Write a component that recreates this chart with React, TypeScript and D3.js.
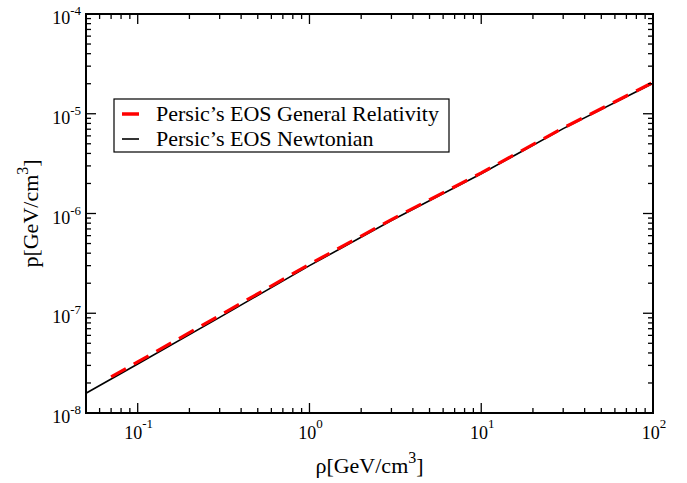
import React from 'react';
import * as d3 from 'd3';

// Persic's EOS curves
const rhoNewton = [0.05, 0.1, 0.3, 1, 3, 10, 30, 100];
const pNewton = [1.58e-8, 3.1e-8, 9.1e-8, 3.0e-7, 8.5e-7, 2.5e-6, 7.1e-6, 2.02e-5];

const rhoGR = [0.07, 0.1, 0.3, 1, 3, 10, 30, 100];
const pGR = [2.3e-8, 3.25e-8, 9.5e-8, 3.1e-7, 8.7e-7, 2.55e-6, 7.2e-6, 2.06e-5];

const xMajor = [0.1, 1, 10, 100];
const xMajorExp = ['-1', '0', '1', '2'];
const yMajor = [1e-8, 1e-7, 1e-6, 1e-5, 1e-4];
const yMajorExp = ['-8', '-7', '-6', '-5', '-4'];

const legendLabels = ['Persic\u2019s EOS General Relativity', 'Persic\u2019s EOS Newtonian'];

const W = 687;
const H = 483;
const margin = { left: 86, right: 34, top: 14, bottom: 70 };
const FONT = "'Liberation Serif', 'Times New Roman', serif";

const minorTicks = (lo: number, hi: number) => {
  const out: number[] = [];
  for (let e = Math.floor(Math.log10(lo)); e < Math.ceil(Math.log10(hi)); e++) {
    for (let k = 2; k <= 9; k++) {
      const v = k * Math.pow(10, e);
      if (v > lo * 1.0001 && v < hi * 0.9999) out.push(v);
    }
  }
  return out;
};

export default function App() {
  const x = d3.scaleLog().domain([0.05, 100]).range([margin.left, W - margin.right]);
  const y = d3.scaleLog().domain([1e-8, 1e-4]).range([H - margin.bottom, margin.top]);
  const [x0, x1] = x.range();
  const [y0, y1] = y.range();

  const line = d3.line<[number, number]>()
    .x(d => x(d[0]))
    .y(d => y(d[1]));

  const newtonPath = line(rhoNewton.map((r, i) => [r, pNewton[i]] as [number, number])) || '';
  const grPath = line(rhoGR.map((r, i) => [r, pGR[i]] as [number, number])) || '';

  const xMinor = minorTicks(0.05, 100);
  const yMinor = minorTicks(1e-8, 1e-4);
  const majLen = 10;
  const minLen = 5;
  const txt = { fontFamily: FONT };

  return (
    <svg width={W} height={H} style={{ position: 'absolute', left: 0, top: 0, background: '#fff', fontFamily: FONT }}>
      <rect x={0} y={0} width={W} height={H} fill="#fff" />

      <clipPath id="plot">
        <rect x={x0} y={y1} width={x1 - x0} height={y0 - y1} />
      </clipPath>

      <g clipPath="url(#plot)">
        <path d={newtonPath} fill="none" stroke="#000" strokeWidth={1.6} />
        <path d={grPath} fill="none" stroke="#ff0000" strokeWidth={3.2} strokeDasharray="17 9" />
      </g>

      {/* ticks on all four sides, pointing inward */}
      <g stroke="#000" strokeWidth={1.3}>
        {xMajor.map(v => (
          <g key={'xm' + v}>
            <line x1={x(v)} x2={x(v)} y1={y0} y2={y0 - majLen} />
            <line x1={x(v)} x2={x(v)} y1={y1} y2={y1 + majLen} />
          </g>
        ))}
        {xMinor.map(v => (
          <g key={'xn' + v}>
            <line x1={x(v)} x2={x(v)} y1={y0} y2={y0 - minLen} />
            <line x1={x(v)} x2={x(v)} y1={y1} y2={y1 + minLen} />
          </g>
        ))}
        {yMajor.map(v => (
          <g key={'ym' + v}>
            <line x1={x0} x2={x0 + majLen} y1={y(v)} y2={y(v)} />
            <line x1={x1} x2={x1 - majLen} y1={y(v)} y2={y(v)} />
          </g>
        ))}
        {yMinor.map(v => (
          <g key={'yn' + v}>
            <line x1={x0} x2={x0 + minLen} y1={y(v)} y2={y(v)} />
            <line x1={x1} x2={x1 - minLen} y1={y(v)} y2={y(v)} />
          </g>
        ))}
      </g>

      <rect x={x0} y={y1} width={x1 - x0} height={y0 - y1} fill="none" stroke="#000" strokeWidth={2} />

      {/* tick labels */}
      {xMajor.map((v, i) => (
        <text key={'xl' + v} x={x(v) + 1} y={y0 + 26} textAnchor="middle" fontSize={18} style={txt}>
          10<tspan dy={-11} fontSize={13}>{xMajorExp[i]}</tspan>
        </text>
      ))}
      {yMajor.map((v, i) => (
        <text key={'yl' + v} x={x0 - 5} y={y(v) + 10} textAnchor="end" fontSize={18} style={txt}>
          10<tspan dy={-9} fontSize={13}>{yMajorExp[i]}</tspan>
        </text>
      ))}

      {/* axis titles */}
      <text x={(x0 + x1) / 2} y={473} textAnchor="middle" fontSize={22} style={txt}>
        ρ[GeV/cm<tspan dy={-10} fontSize={16}>3</tspan><tspan dy={10}>]</tspan>
      </text>
      <text transform={`translate(38,${(y0 + y1) / 2}) rotate(-90)`} textAnchor="middle" fontSize={22} style={txt}>
        p[GeV/cm<tspan dy={-10} fontSize={16}>3</tspan><tspan dy={10}>]</tspan>
      </text>

      {/* legend */}
      <g>
        <rect x={114} y={99} width={335} height={53} fill="#fff" stroke="#000" strokeWidth={1.2} />
        <line x1={122} x2={139} y1={114} y2={114} stroke="#ff0000" strokeWidth={3.5} />
        <line x1={122} x2={139} y1={139} y2={139} stroke="#000" strokeWidth={1.6} />
        <text x={156} y={121} fontSize={22} style={txt}>{legendLabels[0]}</text>
        <text x={156} y={146} fontSize={22} style={txt}>{legendLabels[1]}</text>
      </g>
    </svg>
  );
}
